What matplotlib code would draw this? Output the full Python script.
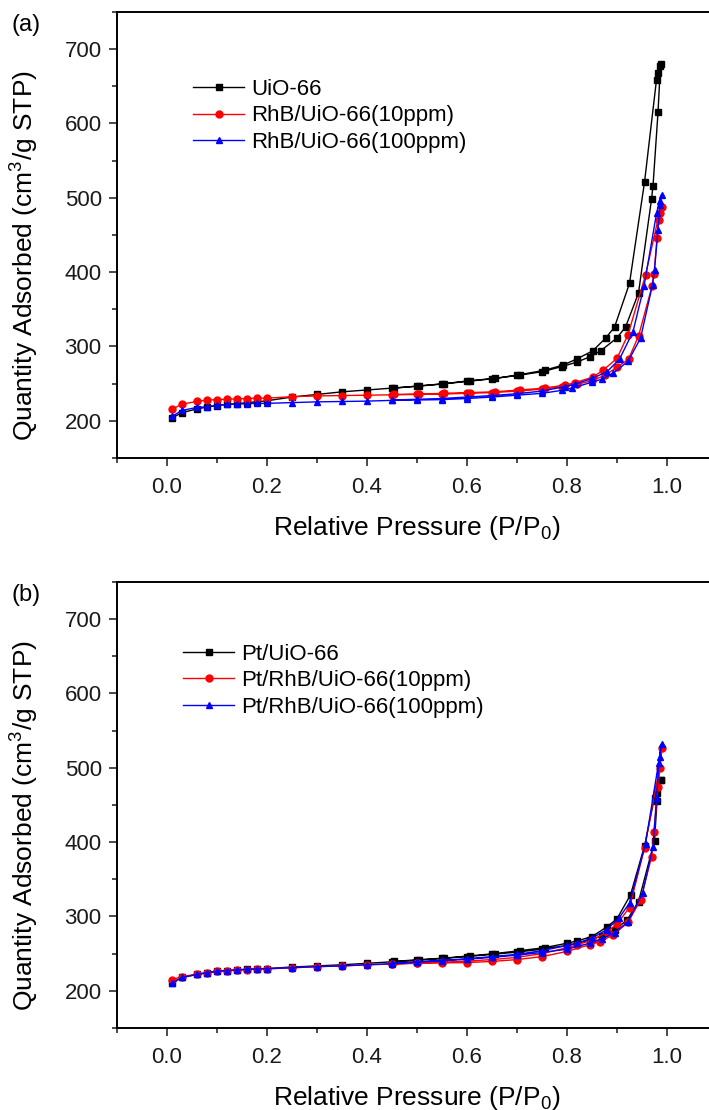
import matplotlib
matplotlib.use("Agg")
import matplotlib.pyplot as plt
from matplotlib.ticker import MultipleLocator

plt.rcParams['font.family'] = ['Liberation Sans', 'DejaVu Sans']
plt.rcParams['mathtext.fontset'] = 'custom'
plt.rcParams['mathtext.rm'] = 'Liberation Sans'

# ---- panel (a): adsorption / desorption branches ----
a_uio_ads_p = [0.01, 0.03, 0.06, 0.08, 0.10, 0.12, 0.14, 0.16, 0.18, 0.20, 0.25, 0.30, 0.35, 0.40,
               0.45, 0.50, 0.55, 0.60, 0.65, 0.70, 0.75, 0.79, 0.82, 0.845, 0.867, 0.899, 0.917,
               0.943, 0.969, 0.972, 0.982, 0.987]
a_uio_ads_v = [204, 211, 216, 218.5, 220.5, 222, 223, 224.5, 225.5, 227, 232, 235.5, 239, 241.5,
               244, 246.5, 249.5, 253, 256.5, 261, 266, 273, 279, 286, 294, 311, 326,
               372, 498, 516, 615, 680]
a_uio_des_p = [0.985, 0.982, 0.979, 0.955, 0.925, 0.895, 0.877, 0.851, 0.819, 0.792, 0.755, 0.705,
               0.655, 0.605, 0.555, 0.505, 0.455]
a_uio_des_v = [678, 668, 659, 521, 385, 326, 311, 294, 283, 275, 268, 262, 257, 254, 250, 247, 244]

a_r10_ads_p = [0.01, 0.03, 0.06, 0.08, 0.10, 0.12, 0.14, 0.16, 0.18, 0.20, 0.25, 0.30, 0.35, 0.40,
               0.45, 0.50, 0.55, 0.60, 0.65, 0.70, 0.75, 0.79, 0.82, 0.85, 0.875, 0.90, 0.923,
               0.943, 0.970, 0.974, 0.980, 0.983, 0.989]
a_r10_ads_v = [215.5, 222.5, 226, 228, 228.5, 229, 229.5, 230, 230.5, 230.5, 232.5, 233.5, 234, 234.5,
               235, 235.5, 236, 237, 238, 240, 242.5, 246, 249, 254, 261, 272, 283,
               314, 381, 398, 446, 470, 488]
a_r10_des_p = [0.985, 0.957, 0.922, 0.90, 0.872, 0.852, 0.815, 0.795, 0.755, 0.705, 0.655, 0.605,
               0.555, 0.505, 0.455]
a_r10_des_v = [480, 396, 316, 284, 268, 259, 251, 248, 244, 241.5, 239, 238, 237, 236, 235.5]

a_r100_ads_p = [0.01, 0.03, 0.06, 0.08, 0.10, 0.12, 0.14, 0.16, 0.18, 0.20, 0.25, 0.30, 0.35, 0.40,
                0.45, 0.50, 0.55, 0.60, 0.65, 0.70, 0.75, 0.79, 0.81, 0.85, 0.87, 0.892, 0.922,
                0.947, 0.971, 0.975, 0.982, 0.986, 0.989]
a_r100_ads_v = [206, 214, 218, 219, 221, 222, 222.5, 223, 223.5, 223.5, 224.5, 225.5, 226, 226.5,
                227.5, 228, 228.5, 230, 232, 234.5, 237, 241, 244, 252, 256, 264, 280,
                311, 383, 403, 457, 490, 504]
a_r100_des_p = [0.985, 0.979, 0.954, 0.932, 0.905, 0.88, 0.85, 0.815, 0.795, 0.75, 0.70, 0.65,
                0.60, 0.55, 0.50, 0.45]
a_r100_des_v = [496, 479, 381, 320, 283, 266, 257, 249, 246, 240, 236.5, 234, 232, 230, 229, 228]

# ---- panel (b) ----
b_pt_ads_p = [0.01, 0.03, 0.06, 0.08, 0.10, 0.12, 0.14, 0.16, 0.18, 0.20, 0.25, 0.30, 0.35, 0.40,
              0.45, 0.50, 0.55, 0.60, 0.65, 0.70, 0.75, 0.80, 0.845, 0.87, 0.895, 0.92, 0.943,
              0.975, 0.98, 0.987]
b_pt_ads_v = [211, 218, 222, 224, 226, 227, 228, 229, 229.5, 230, 232, 233.5, 235, 237,
              239, 241, 243.5, 246, 249, 252, 256, 261, 268, 274, 282, 295, 320,
              402, 455, 484]
b_pt_des_p = [0.987, 0.979, 0.975, 0.955, 0.927, 0.90, 0.88, 0.85, 0.82, 0.80, 0.755, 0.705,
              0.655, 0.605, 0.555, 0.505, 0.455]
b_pt_des_v = [484, 466, 460, 395, 329, 297, 286, 273, 267, 264, 258, 254, 250, 247, 244, 242, 239.5]

b_r10_ads_p = [0.01, 0.03, 0.06, 0.08, 0.10, 0.12, 0.14, 0.16, 0.18, 0.20, 0.25, 0.30, 0.35, 0.40,
               0.45, 0.50, 0.55, 0.60, 0.65, 0.70, 0.75, 0.80, 0.845, 0.865, 0.892, 0.922, 0.947,
               0.969, 0.974, 0.982, 0.99]
b_r10_ads_v = [215, 219, 222.5, 224.5, 226.5, 227, 228, 228.5, 229, 229.5, 231, 232.5, 233.5, 235,
               236, 237, 237.5, 238, 239.5, 242, 246, 253, 262, 266, 275, 292, 322,
               380, 414, 474, 526]
b_r10_des_p = [0.985, 0.955, 0.925, 0.90, 0.88, 0.85, 0.82, 0.80, 0.75, 0.70, 0.65, 0.60,
               0.55, 0.50, 0.45]
b_r10_des_v = [500, 392, 312, 290, 279, 268, 262, 258, 250, 245, 242, 240, 238.5, 237.5, 236]

b_r100_ads_p = [0.01, 0.03, 0.06, 0.08, 0.10, 0.12, 0.14, 0.16, 0.18, 0.20, 0.25, 0.30, 0.35, 0.40,
                0.45, 0.50, 0.55, 0.60, 0.65, 0.70, 0.75, 0.80, 0.845, 0.87, 0.895, 0.922, 0.951,
                0.972, 0.979, 0.985, 0.989]
b_r100_ads_v = [210, 218, 222, 224.5, 226.5, 227.3, 228.2, 229, 229.5, 229.7, 231, 232.5, 233.5, 235,
                236.5, 238.5, 240.5, 242.5, 245, 248, 251.5, 256, 264, 270, 278, 293, 331,
                394, 459, 515, 532]
b_r100_des_p = [0.983, 0.957, 0.925, 0.904, 0.879, 0.85, 0.82, 0.80, 0.75, 0.70, 0.65, 0.60,
                0.55, 0.50, 0.45]
b_r100_des_v = [506, 398, 318, 298, 282, 271, 264, 261, 254, 249, 246, 243, 241, 239, 237]

a_labels = ['UiO-66', 'RhB/UiO-66(10ppm)', 'RhB/UiO-66(100ppm)']
b_labels = ['Pt/UiO-66', 'Pt/RhB/UiO-66(10ppm)', 'Pt/RhB/UiO-66(100ppm)']
colors = ['black', 'red', 'blue']
markers = ['s', 'o', '^']


def draw_panel(ax, series, labels, tag, legend_xy):
    for (p_ads, v_ads, p_des, v_des), lab, c, m in zip(series, labels, colors, markers):
        ax.plot(p_ads + p_des, v_ads + v_des, color=c, marker=m, ms=5, lw=1.0,
                label=lab, clip_on=False)
    ax.set_xlim(-0.1, 1.1)
    ax.set_ylim(150, 750)
    ax.xaxis.set_major_locator(MultipleLocator(0.2))
    ax.xaxis.set_minor_locator(MultipleLocator(0.1))
    ax.yaxis.set_major_locator(MultipleLocator(100))
    ax.yaxis.set_minor_locator(MultipleLocator(50))
    ax.tick_params(which='both', direction='out', top=False, right=False,
                   width=1.1, labelsize=16, colors='#1a1a1a')
    ax.tick_params(which='major', length=6, pad=5)
    ax.tick_params(axis='x', which='major', pad=8)
    ax.tick_params(which='minor', length=3.6)
    for sp in ax.spines.values():
        sp.set_linewidth(1.4)
    ax.set_xlabel('Relative Pressure (P/P$_\\mathregular{0}$)', fontsize=19, labelpad=11)
    ax.set_ylabel('Quantity Adsorbed (cm$^\\mathregular{3}$/g STP)', fontsize=19)
    ax.yaxis.set_label_coords(-0.128, 0.453)
    ax.legend(loc='upper left', bbox_to_anchor=legend_xy, frameon=False, fontsize=16,
              handlelength=2.3, handletextpad=0.3, labelspacing=0.25,
              borderpad=0, borderaxespad=0)
    ax.text(-0.152, 0.97, tag, transform=ax.transAxes, fontsize=17,
            ha='center', va='center')


fig = plt.figure(figsize=(7.09, 11.10), dpi=100)
ax_a = fig.add_axes([0.165, 0.5874, 0.8463, 0.4018])
ax_b = fig.add_axes([0.165, 0.0739, 0.8463, 0.4018])

draw_panel(ax_a,
           [(a_uio_ads_p, a_uio_ads_v, a_uio_des_p, a_uio_des_v),
            (a_r10_ads_p, a_r10_ads_v, a_r10_des_p, a_r10_des_v),
            (a_r100_ads_p, a_r100_ads_v, a_r100_des_p, a_r100_des_v)],
           a_labels, '(a)', (0.127, 0.850))
draw_panel(ax_b,
           [(b_pt_ads_p, b_pt_ads_v, b_pt_des_p, b_pt_des_v),
            (b_r10_ads_p, b_r10_ads_v, b_r10_des_p, b_r10_des_v),
            (b_r100_ads_p, b_r100_ads_v, b_r100_des_p, b_r100_des_v)],
           b_labels, '(b)', (0.110, 0.862))

fig.savefig('out.png', dpi=100)
